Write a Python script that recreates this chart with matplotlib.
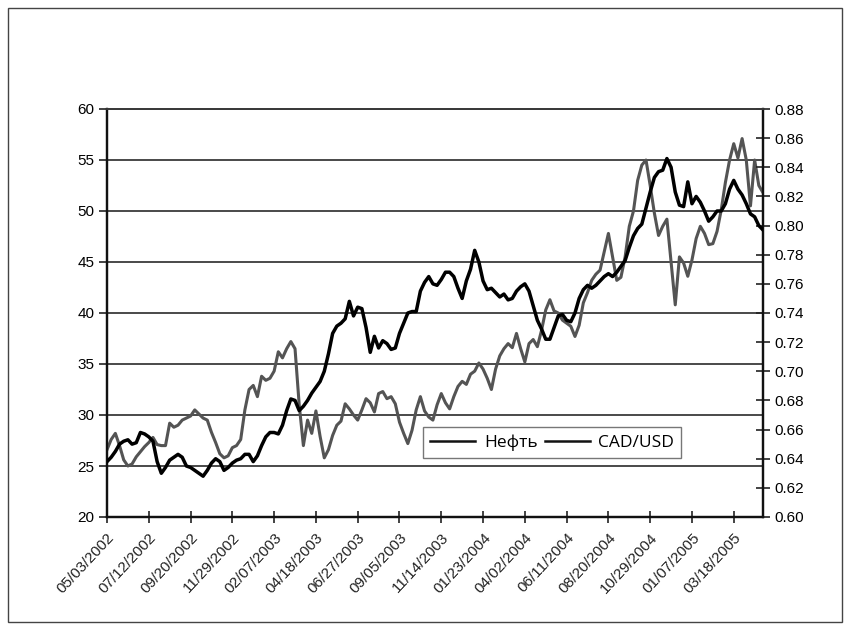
import matplotlib
matplotlib.use("Agg")
import matplotlib.pyplot as plt
import pandas as pd
from matplotlib.patches import Rectangle
from matplotlib.ticker import FormatStrFormatter, MultipleLocator

# weekly observations, Friday 05/03/2002 onwards
start_date = "2002-05-03"

oil = [
    26.6, 27.6, 28.2, 27.0, 25.6, 25.0, 25.2, 25.9, 26.4, 26.9,
    27.3, 27.8, 27.1, 27.0, 27.0, 29.2, 28.8, 29.0, 29.5, 29.7,
    29.9, 30.5, 30.1, 29.7, 29.5, 28.3, 27.3, 26.2, 25.8, 26.0,
    26.8, 27.0, 27.6, 30.5, 32.5, 32.9, 31.8, 33.8, 33.4, 33.6,
    34.3, 36.2, 35.6, 36.5, 37.2, 36.5, 31.0, 27.0, 29.5, 28.2,
    30.4, 27.9, 25.8, 26.6, 28.0, 29.0, 29.4, 31.1, 30.6, 30.0,
    29.5, 30.5, 31.6, 31.2, 30.3, 32.1, 32.3, 31.6, 31.8, 31.1,
    29.3, 28.2, 27.2, 28.5, 30.5, 31.8, 30.4, 29.8, 29.5, 31.0,
    32.1, 31.2, 30.6, 31.8, 32.8, 33.3, 33.0, 34.0, 34.3, 35.1,
    34.5, 33.6, 32.5, 34.5, 35.8, 36.5, 37.0, 36.6, 38.0, 36.5,
    35.2, 37.0, 37.4, 36.7, 38.3, 40.3, 41.3, 40.2, 40.0, 39.3,
    39.0, 38.7, 37.7, 38.8, 41.0, 42.0, 43.2, 43.8, 44.2, 46.0,
    47.8, 45.5, 43.2, 43.5, 45.5, 48.5, 50.0, 53.0, 54.5, 55.0,
    52.5, 49.8, 47.6, 48.5, 49.2, 45.0, 40.8, 45.5, 44.9, 43.6,
    45.2, 47.3, 48.5, 47.8, 46.7, 46.8, 48.0, 50.1, 52.8, 55.0,
    56.6, 55.2, 57.1, 55.0, 50.5, 55.0, 52.5, 51.8,
]

cad_usd = [
    0.638, 0.641, 0.645, 0.650, 0.652, 0.653, 0.650, 0.651, 0.658, 0.657,
    0.655, 0.652, 0.638, 0.630, 0.634, 0.639, 0.641, 0.643, 0.641, 0.635,
    0.634, 0.632, 0.630, 0.628, 0.632, 0.637, 0.640, 0.638, 0.632, 0.634,
    0.637, 0.639, 0.640, 0.643, 0.643, 0.638, 0.642, 0.649, 0.655, 0.658,
    0.658, 0.657, 0.663, 0.673, 0.681, 0.680, 0.673, 0.676, 0.680, 0.685,
    0.689, 0.693, 0.700, 0.712, 0.726, 0.731, 0.733, 0.736, 0.748, 0.738,
    0.744, 0.743, 0.730, 0.713, 0.724, 0.716, 0.721, 0.719, 0.715, 0.716,
    0.726, 0.733, 0.740, 0.741, 0.741, 0.755, 0.761, 0.765, 0.760, 0.759,
    0.763, 0.768, 0.768, 0.765, 0.757, 0.750, 0.762, 0.770, 0.783, 0.775,
    0.762, 0.756, 0.757, 0.754, 0.751, 0.753, 0.749, 0.750, 0.755, 0.758,
    0.760, 0.755, 0.745, 0.735, 0.729, 0.722, 0.722, 0.730, 0.738, 0.739,
    0.735, 0.734, 0.740, 0.750, 0.756, 0.759, 0.757, 0.759, 0.762, 0.765,
    0.767, 0.765, 0.768, 0.772, 0.776, 0.785, 0.793, 0.798, 0.801, 0.812,
    0.823, 0.833, 0.837, 0.838, 0.846, 0.840, 0.823, 0.814, 0.813, 0.830,
    0.815, 0.820, 0.816, 0.810, 0.803, 0.806, 0.810, 0.810, 0.815, 0.825,
    0.831, 0.825, 0.821, 0.815, 0.808, 0.806, 0.800, 0.797,
]

series_labels = ["Нефть", "CAD/USD"]
label_every = 10  # one date label per 10 weeks

dates = pd.date_range(start_date, periods=len(oil), freq="7D")
tick_dates = dates[::label_every]
tick_labels = [d.strftime("%m/%d/%Y") for d in tick_dates]

plt.rcParams["font.family"] = ["Liberation Sans", "DejaVu Sans"]
grid_c = "#3a3a3a"

fig = plt.figure(figsize=(8.5, 6.32), dpi=100)
fig.patches.append(Rectangle((8 / 850, 10 / 632), 834 / 850, 614 / 632,
                             transform=fig.transFigure, fill=False,
                             edgecolor="#444444", linewidth=1.0))

ax = fig.add_axes([107 / 850, 115 / 632, 656 / 850, 408 / 632])
ax2 = ax.twinx()

l1, = ax.plot(dates, oil, color="#545454", linewidth=2.2,
              label=series_labels[0], zorder=3)
l2, = ax2.plot(dates, cad_usd, color="black", linewidth=2.5,
               label=series_labels[1], zorder=3)

ax.set_xlim(dates[0], dates[-1])
ax.set_ylim(20, 60)
ax.yaxis.set_major_locator(MultipleLocator(5))
ax2.set_ylim(0.60, 0.88)
ax2.yaxis.set_major_locator(MultipleLocator(0.02))
ax2.yaxis.set_major_formatter(FormatStrFormatter("%.2f"))

ax.grid(axis="y", color=grid_c, linewidth=1.3)
ax.set_axisbelow(True)

ax.set_xticks(tick_dates)
ax.set_xticklabels(tick_labels, rotation=47, ha="right",
                   rotation_mode="anchor", fontsize=11, color="#222222")
ax.tick_params(axis="x", direction="inout", length=9, width=1.2,
               color="#222222", pad=5)
ax.tick_params(axis="y", direction="out", length=6, width=1.2,
               color="#222222", labelsize=11, pad=3)
ax2.tick_params(axis="y", direction="inout", length=10, width=1.2,
                color="#222222", labelsize=11, pad=3)

for a in (ax, ax2):
    a.spines["top"].set_color(grid_c)
    a.spines["top"].set_linewidth(1.3)
    for side in ("left", "bottom", "right"):
        a.spines[side].set_color("#111111")
        a.spines[side].set_linewidth(1.6)

leg = ax2.legend([l1, l2], series_labels, ncol=2, loc="lower left",
                 bbox_to_anchor=(0.482, 0.145), borderaxespad=0,
                 frameon=True, fancybox=False, handlelength=2.6,
                 handletextpad=0.5, columnspacing=0.4, borderpad=0.4,
                 prop={"family": ["Open Sans", "DejaVu Sans"], "size": 12.5})
leg.get_frame().set_edgecolor("#555555")
leg.get_frame().set_linewidth(1.0)
for h in leg.get_lines():
    h.set_color("#111111")
    h.set_linewidth(1.8)

fig.savefig("out.png", dpi=100)
